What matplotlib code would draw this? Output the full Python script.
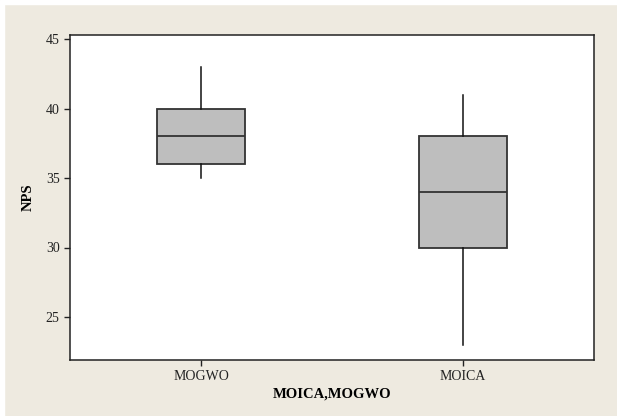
import matplotlib
matplotlib.use("Agg")
import matplotlib.pyplot as plt
from matplotlib.patches import Rectangle

# Box summary stats
groups = ["MOGWO", "MOICA"]
whislo = [35, 23]
q1 = [36, 30]
med = [38, 34]
q3 = [40, 38]
whishi = [43, 41]

stats = []
for i, g in enumerate(groups):
    stats.append(dict(label=g, whislo=whislo[i], q1=q1[i], med=med[i],
                      q3=q3[i], whishi=whishi[i], fliers=[]))

plt.rcParams['font.family'] = ['Liberation Serif', 'DejaVu Serif']
bg = '#EEEAE0'

fig = plt.figure(figsize=(6.17, 4.16), dpi=100, facecolor=bg)
# thin white border on top/left like the screenshot
fig.patches.append(Rectangle((0, 0), 4 / 617, 1, transform=fig.transFigure,
                             color='white', zorder=-1))
fig.patches.append(Rectangle((0, 1 - 4 / 416), 1, 4 / 416, transform=fig.transFigure,
                             color='white', zorder=-1))
ax = fig.add_axes([70 / 617, 1 - 360 / 416, 524 / 617, 325 / 416])

ax.bxp(stats, positions=[1, 2], widths=0.335, patch_artist=True, showcaps=False,
       boxprops=dict(facecolor='#BEBEBE', edgecolor='#333333', linewidth=1.3),
       medianprops=dict(color='#333333', linewidth=1.3),
       whiskerprops=dict(color='#111111', linewidth=1.1))

ax.set_xlim(0.5, 2.5)
ax.set_ylim(21.9, 45.3)
ax.set_yticks([25, 30, 35, 40, 45])
ax.set_xticks([1, 2])
ax.set_xticklabels(groups)
ax.tick_params(labelsize=10, colors='#222222', length=4, width=1)
for s in ax.spines.values():
    s.set_color('#222222')
    s.set_linewidth(1.1)

ax.set_ylabel("NPS", fontsize=10.5, fontweight='bold', labelpad=8)
ax.set_xlabel("MOICA,MOGWO", fontsize=10.5, fontweight='bold', labelpad=3)

fig.savefig("out.png", dpi=100, facecolor=bg)
